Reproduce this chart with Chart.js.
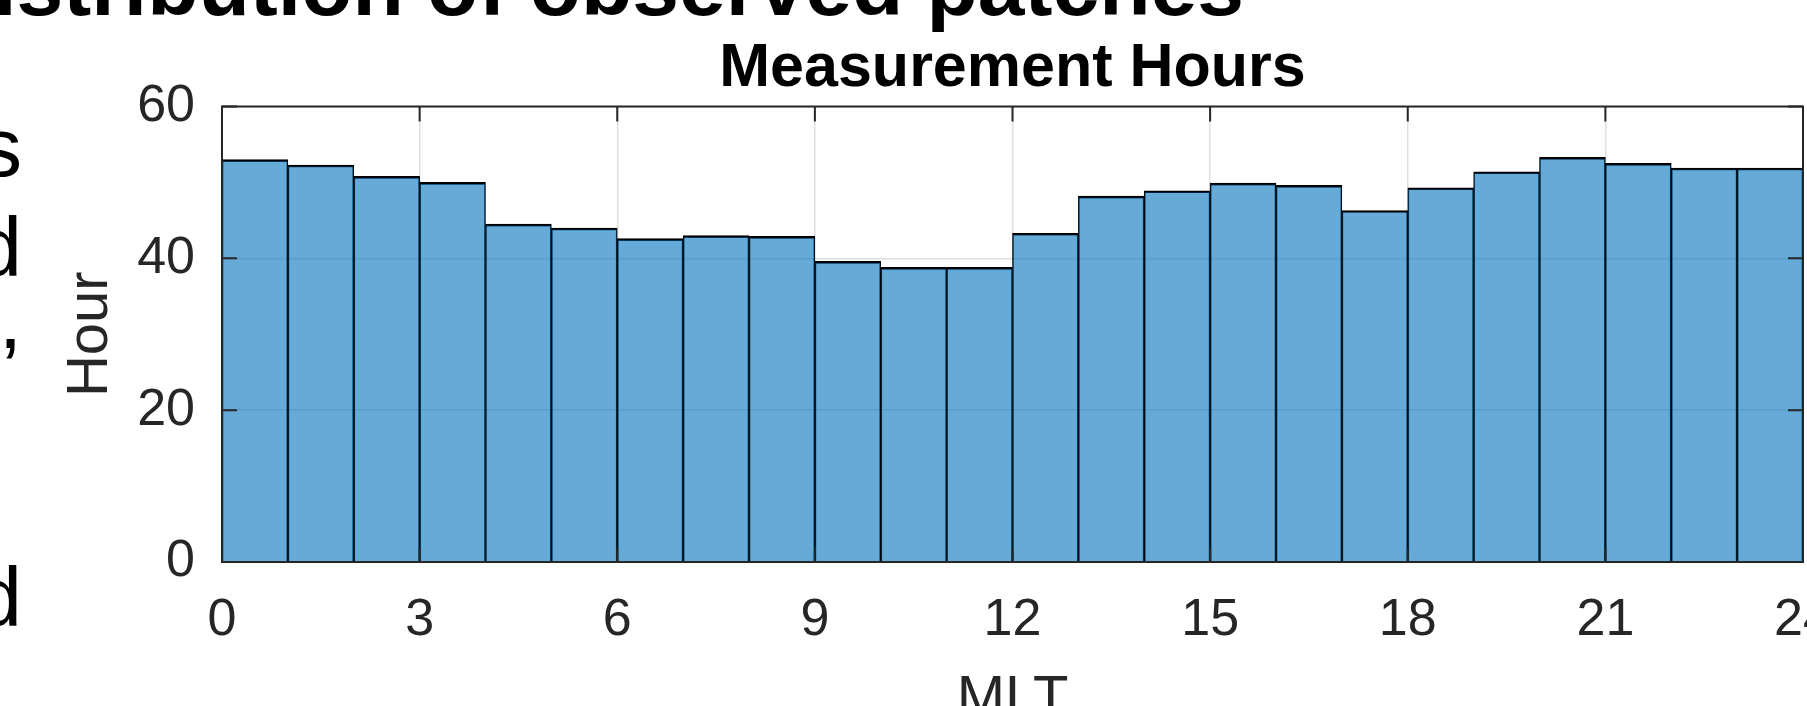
<!DOCTYPE html>
<html>
<head>
<meta charset="utf-8">
<script src="https://cdn.jsdelivr.net/npm/chart.js@4/dist/chart.umd.min.js"></script>
<style>
  html, body { margin: 0; padding: 0; background: #ffffff; overflow: hidden; }
  canvas { display: block; }
</style>
</head>
<body>
<canvas id="hist" width="1807" height="706"></canvas>
<script>
// Measurement hours collected in each 1-hour MLT bin
const binStart = [0, 1, 2, 3, 4, 5, 6, 7, 8, 9, 10, 11, 12, 13, 14, 15, 16, 17, 18, 19, 20, 21, 22, 23];
const binWidth = 1;
const hours = [53.0, 52.3, 50.8, 50.0, 44.5, 44.0, 42.6, 43.0, 42.9, 39.6, 38.8, 38.8,
               43.3, 48.2, 48.9, 49.9, 49.6, 46.3, 49.3, 51.4, 53.3, 52.5, 51.9, 51.9];

// Axis ticks
const mltTicks = [0, 3, 6, 9, 12, 15, 18, 21, 24];
const hourTicks = [0, 20, 40, 60];

// Slide text around the figure
const slideHeading = 'Distribution of observed patches';
const sideFragments = ['s', 'd', ',', 'd'];

const FONT = '"Liberation Sans", Arial, Helvetica, sans-serif';
const INK = '#262626';
const GRID = 'rgba(38,38,38,0.15)';

// Axes box with inward tick marks, drawn over the bars
const axesBox = {
  id: 'axesBox',
  afterDatasetsDraw(chart) {
    const { ctx, chartArea: a, scales: { x, y } } = chart;
    const tl = 15;
    ctx.save();
    ctx.strokeStyle = INK;
    ctx.lineWidth = 2;
    ctx.beginPath();
    mltTicks.forEach(v => {
      const px = x.getPixelForValue(v);
      ctx.moveTo(px, a.top); ctx.lineTo(px, a.top + tl);
      ctx.moveTo(px, a.bottom); ctx.lineTo(px, a.bottom - tl);
    });
    hourTicks.forEach(v => {
      const py = y.getPixelForValue(v);
      ctx.moveTo(a.left, py); ctx.lineTo(a.left + tl, py);
      ctx.moveTo(a.right, py); ctx.lineTo(a.right - tl, py);
    });
    ctx.stroke();
    ctx.strokeRect(a.left, a.top, a.right - a.left, a.bottom - a.top);
    ctx.restore();
  }
};

// Heading and body text of the slide
const slideText = {
  id: 'slideText',
  afterDraw(chart) {
    const ctx = chart.ctx;
    ctx.save();
    ctx.fillStyle = '#000';
    ctx.textAlign = 'right';
    ctx.textBaseline = 'alphabetic';
    ctx.font = `bold 84px ${FONT}`;
    ctx.fillText(slideHeading, 1244, 15);
    ctx.font = `84px ${FONT}`;
    const baselines = [176, 276, 348, 626];
    sideFragments.forEach((t, i) => ctx.fillText(t, 22, baselines[i]));
    ctx.restore();
  }
};

const noEdgePadding = s => { s.paddingLeft = 0; s.paddingRight = 0; s.paddingTop = 0; s.paddingBottom = 0; };

new Chart(document.getElementById('hist'), {
  type: 'bar',
  data: {
    datasets: [{
      data: binStart.map((s, i) => ({ x: s + binWidth / 2, y: hours[i] })),
      backgroundColor: 'rgba(0,114,189,0.6)',
      borderColor: '#000000',
      borderWidth: { top: 2, left: 1, right: 1, bottom: 0 },
      barPercentage: 1,
      categoryPercentage: 1
    }]
  },
  options: {
    responsive: false,
    animation: false,
    devicePixelRatio: 1,
    layout: { autoPadding: false, padding: { left: 0, top: 0, right: 4, bottom: 0 } },
    plugins: {
      legend: { display: false },
      tooltip: { enabled: false },
      title: {
        display: true,
        text: 'Measurement Hours',
        fullSize: false,
        color: '#000000',
        font: { family: FONT, size: 61, weight: 'bold', lineHeight: 1.2 },
        padding: { top: 32.5, bottom: 0.8 }
      }
    },
    scales: {
      x: {
        type: 'linear',
        min: 0,
        max: 24,
        offset: false,
        afterBuildTicks: s => { s.ticks = mltTicks.map(v => ({ value: v })); },
        afterFit: s => { s.height = 144; noEdgePadding(s); },
        grid: { color: GRID, lineWidth: 1.5, drawTicks: false, offset: false },
        border: { display: false },
        ticks: { color: INK, font: { family: FONT, size: 52 }, padding: 27, maxRotation: 0, autoSkip: false },
        title: {
          display: true, text: 'MLT', color: INK,
          font: { family: FONT, size: 58, lineHeight: 1.2 },
          padding: { top: 0, bottom: -29 }
        }
      },
      y: {
        min: 0,
        max: 60,
        afterBuildTicks: s => { s.ticks = hourTicks.map(v => ({ value: v })); },
        afterFit: s => { s.width = 222; noEdgePadding(s); },
        grid: { color: GRID, lineWidth: 1.5, drawTicks: false },
        border: { display: false },
        ticks: { color: INK, font: { family: FONT, size: 52 }, padding: 27 },
        title: {
          display: true, text: 'Hour', color: INK,
          font: { family: FONT, size: 58, lineHeight: 1.2 },
          padding: { top: 56, bottom: 0 }
        }
      }
    }
  },
  plugins: [axesBox, slideText]
});
</script>
</body>
</html>
